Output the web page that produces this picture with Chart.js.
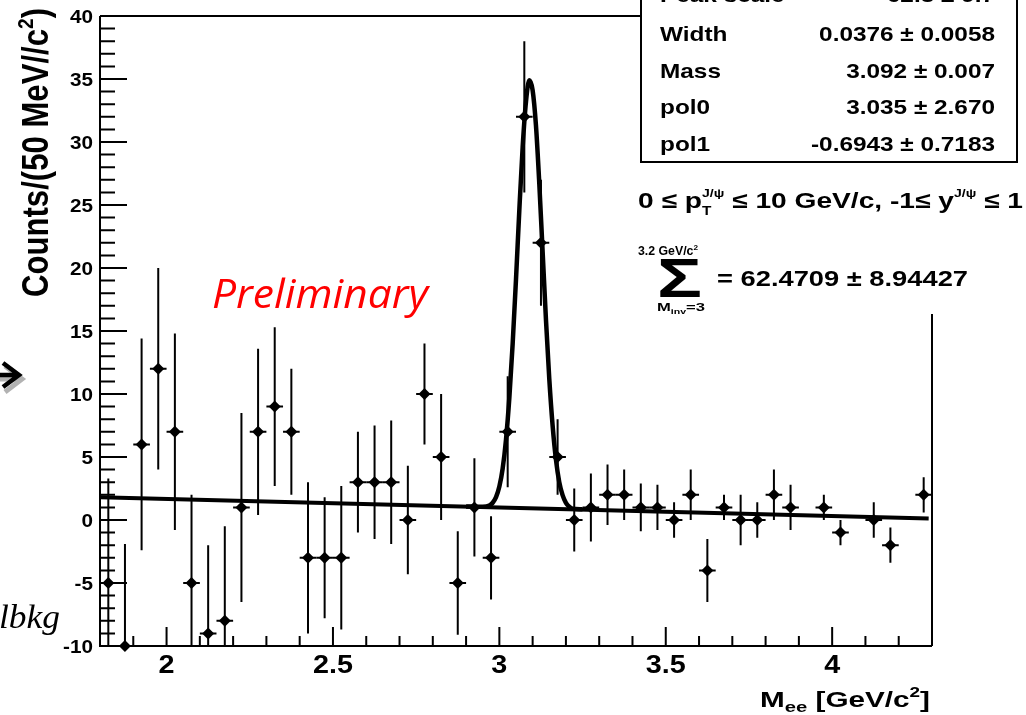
<!DOCTYPE html>
<html><head><meta charset="utf-8">
<script src="https://cdn.jsdelivr.net/npm/chart.js@4.4.1/dist/chart.umd.min.js"></script>
<style>html,body{margin:0;padding:0;background:#fff;overflow:hidden}#wrap{position:relative;width:1026px;height:715px}</style>
</head><body><div id="wrap"><canvas id="c" width="1026" height="715"></canvas></div>
<script>
// ---- data ----
const massBins = [1.825,1.875,1.925,1.975,2.025,2.075,2.125,2.175,2.225,2.275,2.325,2.375,2.425,2.475,2.525,2.575,2.625,2.675,2.725,2.775,2.825,2.875,2.925,2.975,3.025,3.075,3.125,3.175,3.225,3.275,3.325,3.375,3.425,3.475,3.525,3.575,3.625,3.675,3.725,3.775,3.825,3.875,3.925,3.975,4.025,4.075,4.125,4.175,4.225,4.275];
const counts = [-5,-10,6,12,7,-5,-9,-8,1,7,9,7,-3,-3,-3,3,3,3,0,10,5,-5,1,-3,7,32,22,5,0,1,2,2,1,1,0,2,-4,1,0,0,2,1,null,1,-1,null,0,-2,null,2];
const countErrors = [8.3,8.1,8.4,8.0,7.8,7.0,7.0,7.5,7.5,6.6,6.3,5.0,6.0,4.8,5.7,4.0,4.5,4.9,4.3,4.0,5.0,4.1,3.9,3.3,4.4,6.0,5.0,3.0,2.5,2.7,2.4,2.0,1.9,1.8,1.4,2.0,2.5,1.0,2.0,1.4,2.0,1.8,null,1.0,1.0,null,1.4,1.4,null,1.4];
const binHalfWidth = 0.025;
const fitMass = [2.90,2.95,2.97,2.98,2.99,3.00,3.01,3.02,3.03,3.04,3.05,3.06,3.07,3.08,3.09,3.10,3.11,3.12,3.13,3.14,3.15,3.16,3.17,3.18,3.19,3.20,3.21,3.22,3.25];
const fitCounts = [1.08,1.05,1.15,1.37,1.81,2.65,4.1,6.4,9.7,14.0,19.1,24.6,29.6,33.2,34.9,34.1,31.3,26.7,21.3,15.9,11.2,7.5,4.8,3.0,1.97,1.36,1.05,0.90,0.85];
const bkgMass = [1.8, 4.29];
const bkgCounts = [1.8, 0.12];
const xMajorTicks = [2, 2.5, 3, 3.5, 4];
const xTickLabels = ['2', '2.5', '3', '3.5', '4'];
const yMajorTicks = [-10, -5, 0, 5, 10, 15, 20, 25, 30, 35, 40];
const yTickLabels = ['-10', '-5', '0', '5', '10', '15', '20', '25', '30', '35', '40'];
const statNames = ['Peak scale', 'Width', 'Mass', 'pol0', 'pol1'];
const statValues = ['62.3 \u00b1 9.7', '0.0376 \u00b1 0.0058', '3.092 \u00b1 0.007', '3.035 \u00b1 2.670', '-0.6943 \u00b1 0.7183'];

const SANS = '"Liberation Sans", Arial, Helvetica, sans-serif';
function fontOf(s){ return (s.italic?'italic ':'') + (s.bold===false?'':'bold ') + s.size + 'px ' + (s.family||SANS); }
function rich(ctx, segs, x, y, o){
  o = o || {};
  ctx.save();
  let total = 0;
  const ws = segs.map(s => { ctx.font = fontOf(s); const w = ctx.measureText(s.t).width; if(!s.noadv) total += w; return w; });
  const sx = o.width ? o.width/total : (o.sx||1);
  const sy = o.sy || 1;
  ctx.translate(x, y);
  if (o.rot) ctx.rotate(o.rot);
  ctx.scale(sx, sy);
  let cx = o.align==='right' ? -total : (o.align==='center' ? -total/2 : 0);
  ctx.textAlign = 'left'; ctx.textBaseline = 'alphabetic';
  segs.forEach((s,i) => {
    ctx.font = fontOf(s); ctx.fillStyle = s.color || o.color || '#000';
    ctx.fillText(s.t, cx, s.dy||0);
    if (!s.noadv) cx += ws[i];
  });
  ctx.restore();
}

const rootPlugin = {
  id: 'rootStyle',
  beforeDatasetsDraw(chart){
    const {ctx, chartArea:a, scales:{x, y}} = chart;
    ctx.save();
    ctx.beginPath(); ctx.rect(a.left, a.top, a.right-a.left, a.bottom-a.top); ctx.clip();
    ctx.strokeStyle = '#000'; ctx.lineWidth = 2;
    massBins.forEach((m, i) => {
      const v = counts[i], e = countErrors[i];
      if (v === null) return;
      const px = x.getPixelForValue(m), py = y.getPixelForValue(v);
      ctx.beginPath();
      ctx.moveTo(px, y.getPixelForValue(v + e)); ctx.lineTo(px, y.getPixelForValue(v - e));
      ctx.moveTo(x.getPixelForValue(m - binHalfWidth), py); ctx.lineTo(x.getPixelForValue(m + binHalfWidth), py);
      ctx.stroke();
    });
    ctx.restore();
  },
  afterDraw(chart){
    const {ctx, chartArea:a, scales:{x, y}} = chart;
    ctx.save();
    ctx.strokeStyle = '#000'; ctx.lineWidth = 2; ctx.lineCap = 'butt';
    // frame
    ctx.beginPath();
    ctx.moveTo(a.left, a.top); ctx.lineTo(a.left, a.bottom); ctx.lineTo(a.right, a.bottom);
    ctx.moveTo(a.left, a.top); ctx.lineTo(641, a.top);
    ctx.moveTo(a.right, 314); ctx.lineTo(a.right, a.bottom);
    ctx.stroke();
    // ticks
    ctx.beginPath();
    for (let k = -10; k <= 40; k++) {
      const py = y.getPixelForValue(k);
      const len = (k % 5 === 0) ? 27 : 15;
      ctx.moveTo(a.left, py); ctx.lineTo(a.left + len, py);
    }
    for (let k = 18; k <= 43; k++) {
      const v = k / 10;
      const px = x.getPixelForValue(v);
      const len = (k % 5 === 0) ? 19 : 10;
      ctx.moveTo(px, a.bottom); ctx.lineTo(px, a.bottom - len);
    }
    ctx.stroke();
    // tick labels
    yMajorTicks.forEach((v, i) => rich(ctx, [{t:yTickLabels[i], size:18}], 93, y.getPixelForValue(v) + 7, {align:'right', sx:1.15}));
    xMajorTicks.forEach((v, i) => rich(ctx, [{t:xTickLabels[i], size:25}], x.getPixelForValue(v), 673, {align:'center', sx:1.15}));
    // axis titles
    rich(ctx, [{t:'Counts/(50 MeV//c', size:31}, {t:'2', size:19, dy:-13}, {t:')', size:31}], 48, 8, {align:'right', rot:-Math.PI/2, width:289, sy:1.17});
    rich(ctx, [{t:'M', size:22}, {t:'ee', size:15, dy:5}, {t:' [GeV/c', size:22}, {t:'2', size:14, dy:-10}, {t:']', size:22}], 930, 707, {align:'right', width:170});
    // stats box
    ctx.fillStyle = '#fff';
    ctx.fillRect(641, -5, 376, 167);
    ctx.strokeRect(641, -5, 376, 167);
    const rowsY = [2, 41, 78, 114, 151];
    statNames.forEach((n, i) => {
      rich(ctx, [{t:n, size:21}], 660, rowsY[i], {sx:1.16});
      rich(ctx, [{t:statValues[i], size:21}], 995, rowsY[i], {align:'right', sx:1.16});
    });
    // kinematic range
    rich(ctx, [
      {t:'0 \u2264 p', size:22}, {t:'T', size:12, dy:7, noadv:true}, {t:'J/\u03c8', size:11, dy:-11},
      {t:' \u2264 10 GeV/c, -1\u2264 y', size:22}, {t:'J/\u03c8', size:11, dy:-11}, {t:' \u2264 1', size:22}
    ], 638, 208, {width:385});
    // sum
    rich(ctx, [{t:'3.2 GeV/c', size:12}, {t:'2', size:8, dy:-5}], 638, 255, {width:60});
    rich(ctx, [{t:'\u03a3', size:56}], 657, 297, {width:45});
    rich(ctx, [{t:'M', size:11}, {t:'inv', size:7, dy:3}, {t:'=3', size:11}], 657, 311, {width:48});
    rich(ctx, [{t:'= 62.4709 \u00b1 8.94427', size:22}], 717, 286, {width:251});
    // Preliminary
    rich(ctx, [{t:'Preliminary', size:40, bold:false, italic:true, family:'"Open Sans", "Noto Sans", sans-serif', color:'#ff0000'}], 212, 308, {width:216});
    // partial annotation on the left
    rich(ctx, [{t:'lbkg', size:33, bold:false, italic:true, family:'"Liberation Serif", "DejaVu Serif", serif'}], -1, 628, {width:61});
    // arrow at left
    ctx.lineJoin = 'miter';
    ctx.strokeStyle = 'rgba(0,0,0,0.3)'; ctx.lineWidth = 5;
    ctx.beginPath(); ctx.moveTo(-5, 379); ctx.lineTo(19, 379); ctx.moveTo(5, 366); ctx.lineTo(22, 379); ctx.lineTo(5, 392); ctx.stroke();
    ctx.strokeStyle = '#000'; ctx.lineWidth = 4.5;
    ctx.beginPath(); ctx.moveTo(-5, 375); ctx.lineTo(16, 375); ctx.moveTo(3, 363); ctx.lineTo(19, 375); ctx.lineTo(3, 387); ctx.stroke();
    ctx.restore();
  }
};

const pointData = massBins.map((m, i) => ({x: m, y: counts[i]})).filter(p => p.y !== null);
const fitData = fitMass.map((m, i) => ({x: m, y: fitCounts[i]}));
const bkgData = bkgMass.map((m, i) => ({x: m, y: bkgCounts[i]}));

new Chart(document.getElementById('c'), {
  type: 'scatter',
  data: {
    datasets: [
      {label:'fit', data: fitData, showLine: true, borderColor:'#000', borderWidth: 4.5, pointRadius: 0, cubicInterpolationMode:'monotone', order: 1},
      {label:'background', data: bkgData, showLine: true, borderColor:'#000', borderWidth: 4, pointRadius: 0, order: 1},
      {label:'data', data: pointData, pointStyle:'rectRot', pointRadius: 6, backgroundColor:'#000', borderColor:'#000', borderWidth: 0, clip: false, order: 3}
    ]
  },
  options: {
    responsive: false, animation: false, devicePixelRatio: 1,
    layout: {padding: {left: 0, top: 16, right: 94, bottom: 0}},
    plugins: {legend: {display: false}, tooltip: {enabled: false}},
    scales: {
      x: {type:'linear', min: 1.8, max: 4.3, grid:{display:false}, border:{display:false}, ticks:{display:false}, afterFit(s){ s.height = 69; }},
      y: {type:'linear', min: -10, max: 40, grid:{display:false}, border:{display:false}, ticks:{display:false}, afterFit(s){ s.width = 100; }}
    }
  },
  plugins: [rootPlugin]
});
</script>
</body></html>
